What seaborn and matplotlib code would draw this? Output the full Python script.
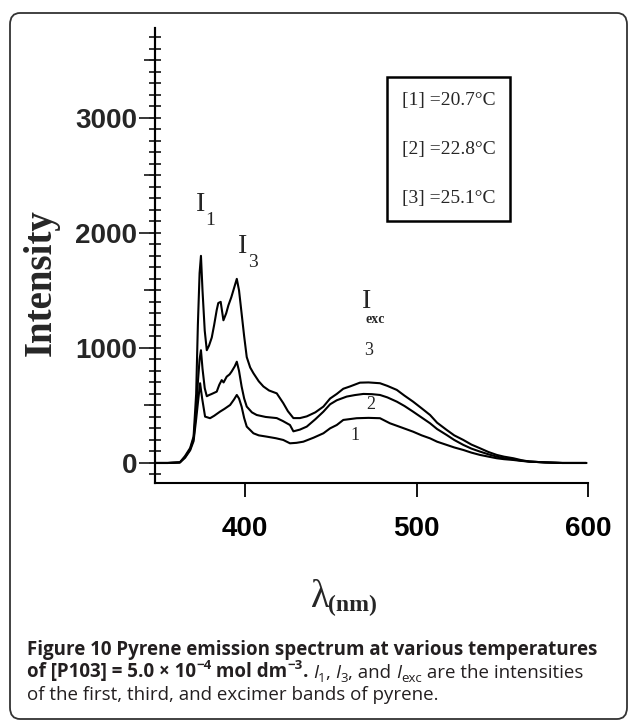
import numpy as np
import pandas as pd
import matplotlib
matplotlib.use("Agg")
import matplotlib.pyplot as plt
import seaborn as sns
from matplotlib.ticker import MultipleLocator
from matplotlib.lines import Line2D
from matplotlib.patches import FancyBboxPatch

# spectra (wavelength nm, intensity a.u.)
wl_1 = [347, 355, 362, 365, 368, 370, 371.5, 372.5, 373.8, 375, 376.7, 379.6, 382, 385.4, 388,
        391.3, 393.5, 395.2, 396.5, 398, 399.5, 401, 404.9, 408, 412.6, 418, 422.3, 426.2, 430,
        434, 440, 445.7, 449.6, 453.5, 457.3, 465.1, 472, 478.7, 484.5, 491, 498, 503, 507.9,
        512, 517.6, 522, 527.3, 532, 537, 542, 546.8, 551, 556.5, 561, 566, 575, 585, 599]
int_1 = [0, 0, 5, 45, 110, 190, 380, 520, 693, 560, 403, 389, 410, 446, 470,
         504, 550, 591, 560, 490, 390, 316, 258, 240, 229, 215, 200, 171, 175,
         185, 220, 258, 301, 330, 374, 389, 392, 389, 345, 310, 272, 240, 214,
         185, 157, 135, 113, 90, 70, 55, 41, 33, 26, 18, 12, 5, 0, 0]

wl_2 = [347, 355, 362, 365, 368, 370, 371.5, 372.5, 373.5, 374.3, 375.2, 376.5, 377.7, 379,
        380.6, 383.5, 385, 386.4, 387.5, 389.3, 391, 392.2, 394, 395.2, 396.5, 398, 399.5, 401,
        404, 406.8, 412, 418.5, 422, 426.2, 428.2, 432, 436, 441, 445.7, 449.6, 453.5, 459.3,
        464, 469, 474, 478.7, 483, 488.5, 493, 498, 503, 507.9, 512, 517.6, 522, 527.3, 532,
        537, 542, 546.8, 551, 556.5, 561, 566, 575, 585, 599]
int_2 = [0, 0, 5, 50, 120, 210, 450, 700, 900, 980, 820, 650, 580, 590,
         600, 620, 680, 720, 700, 750, 770, 795, 840, 880, 800, 665, 560, 490,
         440, 417, 400, 390, 365, 330, 275, 290, 316, 380, 446, 510, 545, 577,
         590, 600, 598, 591, 570, 533, 495, 446, 395, 345, 295, 243, 200, 157, 125,
         99, 75, 55, 42, 32, 20, 12, 5, 0, 0]

wl_3 = [347, 355, 362, 365, 368, 370, 371.5, 372.5, 373.5, 374.3, 375.2, 376.5, 377.7, 379,
        380.6, 382, 383.5, 384.4, 385.8, 387.4, 389, 390.3, 392, 393.2, 395.2, 396.5, 398,
        399.5, 401, 403, 404.9, 408, 410.7, 414, 418.5, 422.3, 425, 428.2, 432, 436, 441,
        445.7, 449.6, 453.5, 457.3, 461.2, 467, 472, 478.7, 483, 488.5, 493, 498, 503, 507.9,
        512, 517.6, 522, 527.3, 532, 537, 542, 546.8, 551, 556.5, 561, 566, 575, 585, 599]
int_3 = [0, 0, 5, 60, 130, 230, 600, 1200, 1650, 1800, 1500, 1150, 980, 1020,
         1090, 1200, 1330, 1390, 1400, 1240, 1300, 1370, 1440, 1500, 1600, 1500, 1300,
         1100, 920, 830, 780, 710, 665, 630, 605, 520, 450, 390, 390, 405, 440,
         490, 560, 600, 645, 665, 698, 700, 693, 670, 635, 585, 533, 475, 417,
         350, 287, 240, 200, 160, 128, 95, 70, 55, 41, 25, 12, 5, 0, 0]

temp_labels = ["[1] =20.7°C", "[2] =22.8°C", "[3] =25.1°C"]
curve_ids = ["1", "2", "3"]
x_ticks = [400, 500, 600]
y_ticks = [0, 1000, 2000, 3000]

frames = []
for lab, wl, it in zip(temp_labels, [wl_1, wl_2, wl_3], [int_1, int_2, int_3]):
    frames.append(pd.DataFrame({"wl": wl, "I": it, "T": lab}))
df = pd.concat(frames, ignore_index=True)

sns.set_style("ticks")
tick_family = "Liberation Sans"
serif = "Liberation Serif"

fig = plt.figure(figsize=(6.29, 7.22), dpi=100)
ax = fig.add_axes([155 / 629, 1 - 483 / 722, 433 / 629, 455 / 722])

sns.lineplot(data=df, x="wl", y="I", hue="T", palette=["black"] * 3, estimator=None,
             sort=False, legend=False, lw=1.5, ax=ax)

ax.set_xlim(347.5, 600)
ax.set_ylim(-174, 3780)
sns.despine(ax=ax)
for s in ["left", "bottom"]:
    ax.spines[s].set_linewidth(1.5)
    ax.spines[s].set_color("black")

ax.set_xticks(x_ticks)
ax.set_yticks(y_ticks)
ax.yaxis.set_minor_locator(MultipleLocator(100))
ax.yaxis.remove_overlapping_locs = False
ax.tick_params(axis="x", direction="out", length=10, width=1.3, pad=14, colors="black")
ax.tick_params(axis="y", which="major", direction="out", length=11.5, width=1.3, pad=1.5)
ax.tick_params(axis="y", which="minor", direction="inout", length=8.6, width=1.3)
for lab in ax.get_xticklabels() + ax.get_yticklabels():
    lab.set_family(tick_family)
    lab.set_weight("bold")
    lab.set_fontsize(20)

# medium ticks at the 500s
sec = ax.secondary_yaxis("left")
sec.set_yticks(np.arange(500, 4000, 1000))
sec.set_yticklabels([])
sec.tick_params(direction="out", length=8, width=1.3)
sec.spines["left"].set_linewidth(1.5)

ax.set_xlabel("")
ax.set_ylabel("Intensity", family=serif, weight="bold", fontsize=28)
ax.yaxis.set_label_coords(-0.22, 0.44)

lam = ax.text(0.381, -0.211, "λ", transform=ax.transAxes, family=serif, fontsize=28,
              ha="center", va="top")
ax.annotate("(nm)", xy=(1, 0), xycoords=lam, xytext=(-1, 0), textcoords="offset points",
            ha="left", va="bottom", family=serif, weight="bold", fontsize=17)

# band labels
def band(x, y, sub, sub_x, sub_size, sub_weight="normal", dy=4):
    t = ax.text(x, y, "I", family=serif, fontsize=20, ha="center", va="center")
    ax.annotate(sub, xy=(sub_x, 0), xycoords=t, xytext=(0, dy), textcoords="offset points",
                ha="left", va="top", family=serif, fontsize=sub_size, weight=sub_weight)

band(374.3, 2243, "1", 1.0, 14)
band(398.8, 1878, "3", 1.0, 14)
band(470.6, 1400, "exc", 0.45, 10, "bold", dy=1)

for cid, (cx, cy) in zip(curve_ids, [(464.1, 243), (473.5, 504), (472.3, 974)]):
    ax.text(cx, cy, cid, family=serif, fontsize=13, ha="center", va="center")

handles = [Line2D([], [], linestyle="none") for _ in temp_labels]
leg = ax.legend(handles, temp_labels, loc="upper left", bbox_to_anchor=(0.536, 0.892),
                borderaxespad=0, handlelength=0, handletextpad=0, borderpad=0.75,
                labelspacing=1.6, frameon=True, fancybox=False, edgecolor="black",
                framealpha=1, prop={"family": serif, "size": 14})
leg.get_frame().set_linewidth(1.8)

# caption
cap = ["Open Sans", "DejaVu Sans"]
cc = "#231f20"
csize = 13.5
B = dict(family=cap, weight="bold", fontsize=csize, color=cc)
R = dict(family=cap, fontsize=csize, color=cc)
It = dict(family=cap, style="italic", fontsize=csize, color=cc)
Bs = dict(family=cap, weight="bold", fontsize=9.5, color=cc)
Rs = dict(family=cap, fontsize=9.5, color=cc)


def chain(x, y, parts):
    base = fig.text(x, y, parts[0][0], va="baseline", ha="left", **parts[0][1])
    prev = base
    for s, kw, dy in parts[1:]:
        prev = ax.annotate(s, xy=(1, 0), xycoords=(prev, base), xytext=(0, dy),
                           textcoords="offset points", va="bottom", ha="left",
                           annotation_clip=False, **kw)


fig.text(27 / 629, 1 - 655 / 722, "Figure 10 Pyrene emission spectrum at various temperatures",
         va="baseline", ha="left", **B)
chain(27 / 629, 1 - 677 / 722, [
    ("of [P103] = 5.0 × 10", B),
    ("−4", Bs, 7), (" mol dm", B, 0), ("−3", Bs, 7), (".", B, 0),
    (" ", R, 0), ("I", It, 0), ("1", Rs, -2), (", ", R, 0), ("I", It, 0), ("3", Rs, -2),
    (", and ", R, 0), ("I", It, 0), ("exc", Rs, -2), (" are the intensities", R, 0),
])
fig.text(27 / 629, 1 - 700 / 722, "of the first, third, and excimer bands of pyrene.",
         va="baseline", ha="left", **R)

fig.patches.append(FancyBboxPatch((10 / 629, 3 / 722), 617 / 629, 706 / 722,
                                  boxstyle="round,pad=0,rounding_size=0.016",
                                  transform=fig.transFigure, fill=False, lw=1.3,
                                  ec="#333333"))

fig.savefig("out.png", dpi=100)
